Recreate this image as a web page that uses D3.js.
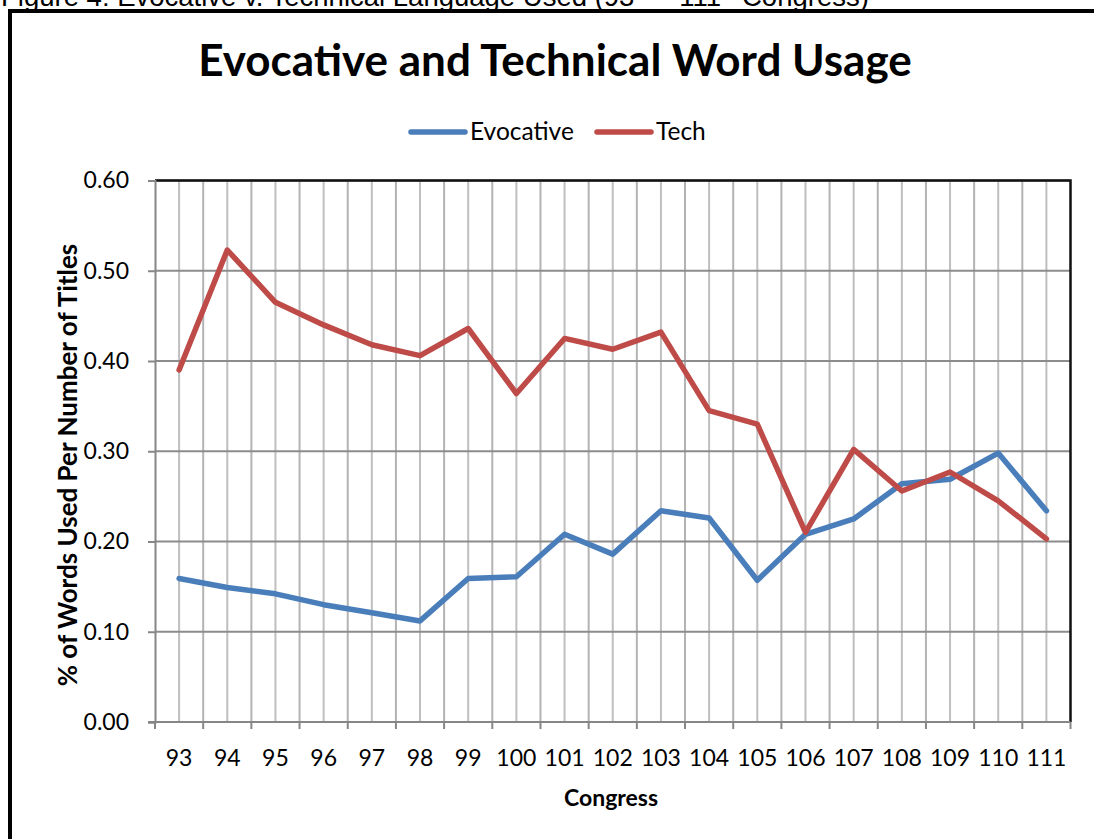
<!DOCTYPE html>
<html>
<head>
<meta charset="utf-8">
<script src="https://cdn.jsdelivr.net/npm/d3@7"></script>
<style>
  html, body { margin: 0; padding: 0; background: #fff; overflow: hidden; }
  svg { display: block; }
</style>
</head>
<body>
<svg id="chart" width="1094" height="839"></svg>
<script>
// Congress sessions and word-usage ratios
const congresses = ["93","94","95","96","97","98","99","100","101","102","103","104","105","106","107","108","109","110","111"];
const evocative = [0.159,0.149,0.142,0.130,0.121,0.112,0.159,0.161,0.208,0.186,0.234,0.226,0.157,0.208,0.225,0.264,0.269,0.298,0.234];
const tech = [0.390,0.523,0.465,0.440,0.418,0.406,0.436,0.364,0.425,0.413,0.432,0.345,0.330,0.210,0.302,0.256,0.277,0.245,0.203];
const yTicks = [0, 0.1, 0.2, 0.3, 0.4, 0.5, 0.6];
const seriesNames = ["Evocative", "Tech"];
const seriesColors = ["#4A7EBB", "#BE4B48"];

const svg = d3.select("#chart");
const font = "Lato, 'Open Sans', sans-serif";

// Figure caption (partially above the page edge)
const cap = svg.append("text")
  .attr("x", 1).attr("y", 6)
  .attr("font-family", "'Liberation Sans', Arial, sans-serif")
  .attr("font-size", 27.5)
  .attr("fill", "#000");
cap.append("tspan").text("Figure 4: Evocative v. Technical Language Used (93");
cap.append("tspan").attr("dy", -11).attr("font-size", 16).text("rd");
cap.append("tspan").attr("dy", 11).text(" \u2013 111");
cap.append("tspan").attr("dy", -11).attr("font-size", 16).text("th");
cap.append("tspan").attr("dy", 11).text(" Congress)");

// Outer chart frame
svg.append("rect")
  .attr("x", 10).attr("y", 11)
  .attr("width", 1200).attr("height", 1000)
  .attr("fill", "#fff")
  .attr("stroke", "#000").attr("stroke-width", 4);

// Plot area bounds
const plotLeft = 155, plotRight = 1070.5, plotTop = 180.5, plotBottom = 722;

const x = d3.scaleBand().domain(congresses).range([plotLeft, plotRight]).padding(0);
const y = d3.scaleLinear().domain([0, 0.6]).range([plotBottom, plotTop]);

// Vertical gridlines: category centres and category boundaries
const gridV = svg.append("g");
congresses.forEach((c, i) => {
  gridV.append("line")
    .attr("x1", x(c) + x.bandwidth() / 2).attr("x2", x(c) + x.bandwidth() / 2)
    .attr("y1", plotTop).attr("y2", plotBottom)
    .attr("stroke", "#BFBFBF").attr("stroke-width", 2);
  if (i > 0) {
    gridV.append("line")
      .attr("x1", x(c)).attr("x2", x(c))
      .attr("y1", plotTop).attr("y2", plotBottom)
      .attr("stroke", "#B3B3B3").attr("stroke-width", 2);
  }
});

// Horizontal gridlines
svg.append("g").selectAll("line")
  .data(yTicks.filter(d => d > 0))
  .join("line")
  .attr("x1", plotLeft).attr("x2", plotRight)
  .attr("y1", d => y(d)).attr("y2", d => y(d))
  .attr("stroke", "#8C8C8C").attr("stroke-width", 2);

// Plot-area border (top and right)
svg.append("path")
  .attr("d", `M${plotLeft},${plotTop}H${plotRight}V${plotBottom}`)
  .attr("fill", "none").attr("stroke", "#111").attr("stroke-width", 2.5);

// Y axis
const yAxis = svg.append("g")
  .attr("transform", `translate(${plotLeft},0)`)
  .call(d3.axisLeft(y).tickValues(yTicks).tickFormat(d3.format(".2f")).tickSize(7).tickPadding(19));
yAxis.select(".domain").attr("stroke", "#868686").attr("stroke-width", 2);
yAxis.selectAll(".tick line").attr("stroke", "#868686").attr("stroke-width", 2);
yAxis.selectAll(".tick text")
  .attr("font-family", font).attr("font-size", 23).attr("fill", "#000");

// X axis with ticks on category boundaries
const xAxis = svg.append("g")
  .attr("transform", `translate(0,${plotBottom})`)
  .call(d3.axisBottom(x).tickSize(0).tickPadding(28));
xAxis.select(".domain").attr("stroke", "#868686").attr("stroke-width", 2)
  .attr("d", `M${plotLeft - 7},0H${plotRight}`);
xAxis.selectAll(".tick text")
  .attr("font-family", font).attr("font-size", 23).attr("fill", "#000");
xAxis.append("g").selectAll("line")
  .data(congresses.map(c => x(c)).concat([plotRight]))
  .join("line")
  .attr("x1", d => d).attr("x2", d => d)
  .attr("y1", 0).attr("y2", 7)
  .attr("stroke", "#868686").attr("stroke-width", 2);

// Series lines
const line = d3.line()
  .x((d, i) => x(congresses[i]) + x.bandwidth() / 2)
  .y(d => y(d));
[evocative, tech].forEach((vals, k) => {
  svg.append("path")
    .datum(vals)
    .attr("d", line)
    .attr("fill", "none")
    .attr("stroke", seriesColors[k])
    .attr("stroke-width", 5.5)
    .attr("stroke-linejoin", "round")
    .attr("stroke-linecap", "round");
});

// Title
svg.append("text")
  .attr("x", 555).attr("y", 76)
  .attr("text-anchor", "middle")
  .attr("font-family", font).attr("font-weight", "bold").attr("font-size", 44)
  .attr("fill", "#000")
  .text("Evocative and Technical Word Usage");

// Legend
const legend = svg.append("g");
const legendX = [411, 597];
seriesNames.forEach((name, k) => {
  legend.append("line")
    .attr("x1", legendX[k]).attr("x2", legendX[k] + 54)
    .attr("y1", 132).attr("y2", 132)
    .attr("stroke", seriesColors[k]).attr("stroke-width", 5.5)
    .attr("stroke-linecap", "round");
  legend.append("text")
    .attr("x", legendX[k] + 59).attr("y", 140)
    .attr("font-family", font).attr("font-size", 24.5).attr("fill", "#000")
    .text(name);
});

// Axis titles
svg.append("text")
  .attr("x", 611).attr("y", 806)
  .attr("text-anchor", "middle")
  .attr("font-family", font).attr("font-weight", "bold").attr("font-size", 23)
  .attr("fill", "#000")
  .text("Congress");

svg.append("text")
  .attr("transform", `translate(77,465) rotate(-90)`)
  .attr("text-anchor", "middle")
  .attr("font-family", font).attr("font-weight", "bold").attr("font-size", 26)
  .attr("fill", "#000")
  .text("% of Words Used Per Number of Titles");
</script>
</body>
</html>
